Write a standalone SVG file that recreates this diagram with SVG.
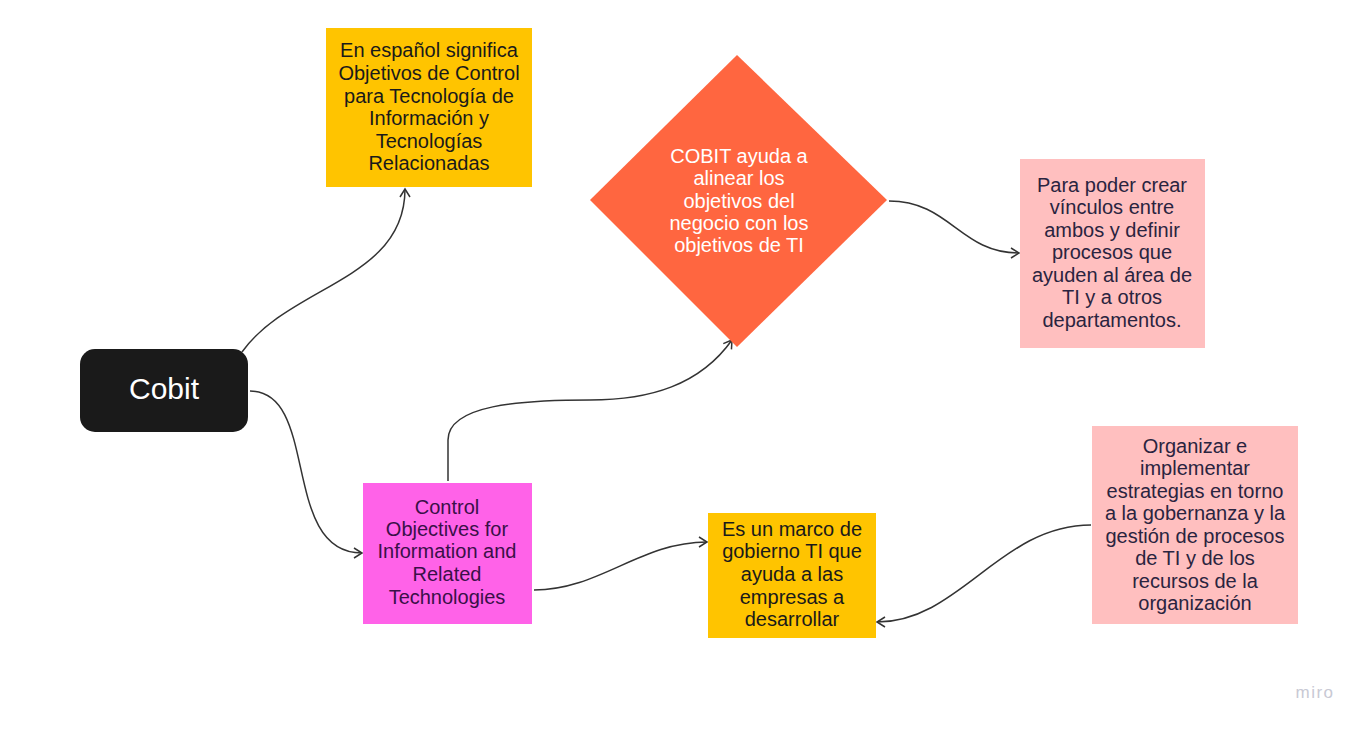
<svg xmlns="http://www.w3.org/2000/svg" width="1368" height="730" viewBox="0 0 1368 730">
<defs>
<style>
.t{font-family:"Liberation Sans",Arial,sans-serif;font-size:20px;text-anchor:middle}
.dark{fill:#1a1a1a}
.navy{fill:#2a2440}
.purp{fill:#3a1048}
.white{fill:#ffffff}
.c{fill:none;stroke:#333333;stroke-width:1.5}
</style>
<marker id="ah" viewBox="0 0 12 12" refX="10" refY="6" markerWidth="12" markerHeight="12" markerUnits="userSpaceOnUse" orient="auto">
<path d="M2,1 L10,6 L2,11" fill="none" stroke="#333333" stroke-width="1.5"/>
</marker>
</defs>
<rect width="1368" height="730" fill="#ffffff"/>
<g id="connectors">
<path class="c" d="M242,352 C290,285 405,280 405,189" marker-end="url(#ah)"/>
<path class="c" d="M250,391 C320,391 280,553 362,553" marker-end="url(#ah)"/>
<path class="c" d="M448,481 L448,440 C448,405 520,400 590,400 C650,400 700,385 732,340" marker-end="url(#ah)"/>
<path class="c" d="M889,201 C950,201 960,253 1019,253" marker-end="url(#ah)"/>
<path class="c" d="M534,590 C600,590 640,542 707,542" marker-end="url(#ah)"/>
<path class="c" d="M1091,525 C1000,525 960,622 877,622" marker-end="url(#ah)"/>
</g>
<g id="node-spanish">
<rect x="326" y="28" width="206" height="159" fill="#FFC400"/>
<text class="t dark"><tspan x="429" y="57">En español significa</tspan><tspan x="429" y="80">Objetivos de Control</tspan><tspan x="429" y="103">para Tecnología de</tspan><tspan x="429" y="125">Información y</tspan><tspan x="429" y="148">Tecnologías</tspan><tspan x="429" y="170">Relacionadas</tspan></text>
</g>
<g id="node-diamond">
<polygon points="737,55 887,200 737,347 590,200" fill="#FF6640"/>
<text class="t white"><tspan x="739" y="163">COBIT ayuda a</tspan><tspan x="739" y="185">alinear los</tspan><tspan x="739" y="208">objetivos del</tspan><tspan x="739" y="230">negocio con los</tspan><tspan x="739" y="252">objetivos de TI</tspan></text>
</g>
<g id="node-vinculos">
<rect x="1020" y="159" width="185" height="189" fill="#FFBFBF"/>
<text class="t navy"><tspan x="1112" y="192">Para poder crear</tspan><tspan x="1112" y="214">vínculos entre</tspan><tspan x="1112" y="237">ambos y definir</tspan><tspan x="1112" y="259">procesos que</tspan><tspan x="1112" y="282">ayuden al área de</tspan><tspan x="1112" y="304">TI y a otros</tspan><tspan x="1112" y="327">departamentos.</tspan></text>
</g>
<g id="node-cobit">
<rect x="80" y="349" width="168" height="83" rx="15" fill="#1a1a1a"/>
<text x="164" y="399" font-family="'Liberation Sans',Arial,sans-serif" font-size="30" text-anchor="middle" fill="#ffffff">Cobit</text>
</g>
<g id="node-control">
<rect x="363" y="483" width="169" height="141" fill="#FF62E8"/>
<text class="t purp"><tspan x="447" y="514">Control</tspan><tspan x="447" y="536">Objectives for</tspan><tspan x="447" y="558">Information and</tspan><tspan x="447" y="581">Related</tspan><tspan x="447" y="604">Technologies</tspan></text>
</g>
<g id="node-marco">
<rect x="708" y="513" width="168" height="125" fill="#FFC400"/>
<text class="t dark"><tspan x="792" y="536">Es un marco de</tspan><tspan x="792" y="558">gobierno TI que</tspan><tspan x="792" y="581">ayuda a las</tspan><tspan x="792" y="604">empresas a</tspan><tspan x="792" y="626">desarrollar</tspan></text>
</g>
<g id="node-organizar">
<rect x="1092" y="426" width="206" height="198" fill="#FFBFBF"/>
<text class="t navy"><tspan x="1195" y="453">Organizar e</tspan><tspan x="1195" y="475">implementar</tspan><tspan x="1195" y="498">estrategias en torno</tspan><tspan x="1195" y="520">a la gobernanza y la</tspan><tspan x="1195" y="543">gestión de procesos</tspan><tspan x="1195" y="565">de TI y de los</tspan><tspan x="1195" y="588">recursos de la</tspan><tspan x="1195" y="610">organización</tspan></text>
</g>
<text x="1315" y="698" font-family="'Liberation Sans',Arial,sans-serif" font-size="17" text-anchor="middle" fill="#c8c9d4" letter-spacing="1.5">miro</text>
</svg>
